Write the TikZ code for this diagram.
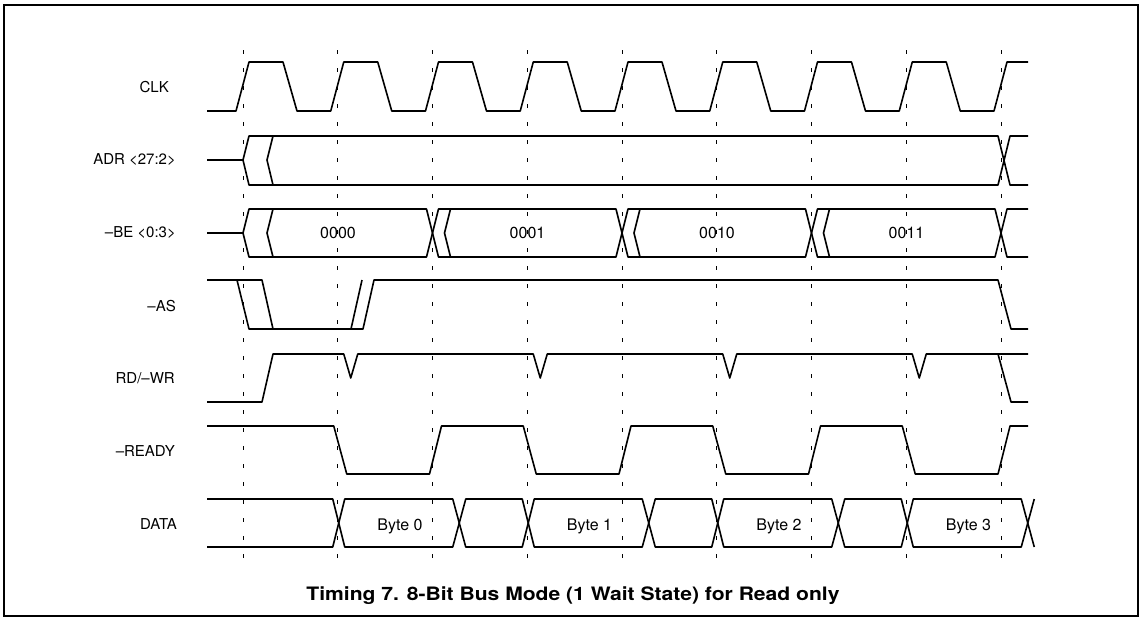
\documentclass[tikz,border=0pt]{standalone}
\usepackage{fontspec}
\setmainfont{TeX Gyre Heros}
\usetikzlibrary{positioning}

\begin{document}
\begin{tikzpicture}[x=1pt,y=-1pt,
  wave/.style={line width=1.6pt, line join=round},
  guide/.style={line width=0.9pt, dash pattern=on 4pt off 14pt},
  sname/.style={anchor=east, inner sep=0pt, font=\fontsize{15}{17}\selectfont},
  val/.style={inner sep=0pt, font=\fontsize{16}{18}\selectfont}]
\useasboundingbox (0,0) rectangle (1143,619);
\draw[line width=1.2pt] (4,5) rectangle (1138,616);

% dashed guides at the rising clock edges
\foreach \i in {0,...,8}
  \draw[guide] ({243+94.75*\i},50) -- ({243+94.75*\i},560);

% signal names
\node[sname] (clk)   at (169,87)  {CLK};
\node[sname] (adr)   at (176,160) {ADR <27:2>};
\node[sname] (be)    at (176,233) {--BE <0:3>};
\node[sname] (as)    at (176,306) {--AS};
\node[sname] (rdwr)  at (175,378) {RD/--WR};
\node[sname] (ready) at (175,451) {--READY};
\node[sname] (data)  at (177,524) {DATA};

% CLK
\draw[wave] (207,111) \foreach \i in {0,...,7} {
    -- ({236+94.75*\i},111) -- ({249+94.75*\i},62)
    -- ({283+94.75*\i},62) -- ({297+94.75*\i},111) }
  -- (994,111) -- (1007,62) -- (1028,62);

% ADR <27:2>
\draw[wave] (207,160) -- (243,160) -- (249,136) -- (998,136) -- (1010,185) -- (1028,185);
\draw[wave] (243,160) -- (249,185) -- (998,185) -- (1010,136) -- (1028,136);
\draw[wave] (273,136) -- (267,160) -- (273,185);

% -BE <0:3>
\draw[wave] (207,233) -- (243,233) -- (249,209) \foreach \i in {2,6} {
    -- ({243+94.75*\i-6},209) -- ({243+94.75*\i+6},257)
    -- ({432.5+94.75*\i-6},257) -- ({432.5+94.75*\i+6},209) }
  -- (1028,209);
\draw[wave] (243,233) -- (249,257) \foreach \i in {2,6} {
    -- ({243+94.75*\i-6},257) -- ({243+94.75*\i+6},209)
    -- ({432.5+94.75*\i-6},209) -- ({432.5+94.75*\i+6},257) }
  -- (1028,257);
\draw[wave] (273,209) -- (267,233) -- (273,257);
\foreach \i in {2,4,6}
  \draw[wave] ({243+94.75*\i+18},209) -- ({243+94.75*\i+12},233) -- ({243+94.75*\i+18},257);
\foreach \v [count=\k from 0] in {0000,0001,0010,0011}
  \node[val] (be\k) at ({338+189.5*\k},233) {\v};

% -AS
\draw[wave] (207,280) -- (262,280) -- (273,329);
\draw[wave] (237,280) -- (249,329) -- (363,329) -- (374,280) -- (998,280) -- (1011,329) -- (1028,329);
\draw[wave] (351,329) -- (362,280);

% RD/-WR
\draw[wave] (207,402) -- (262,402) -- (273,354) \foreach \i in {1,3,5,7} {
    -- ({243+94.75*\i+6},354) -- ({243+94.75*\i+13},378) -- ({243+94.75*\i+20},354) }
  -- (1028,354);
\draw[wave] (998,354) -- (1011,402) -- (1028,402);

% -READY
\draw[wave] (207,426) \foreach \i in {1,3,5,7} {
    -- ({243+94.75*\i-4},426) -- ({243+94.75*\i+9},474)
    -- ({337.75+94.75*\i-3},474) -- ({337.75+94.75*\i+9},426) }
  -- (1028,426);

% DATA
\draw[wave] (207,499) \foreach \i in {1,3,5,7} {
    -- ({243+94.75*\i-5},499) -- ({243+94.75*\i+7},547)
    -- ({364+94.75*\i-6},547) -- ({364+94.75*\i+7},499) };
\draw[wave] (207,547) \foreach \i in {1,3,5,7} {
    -- ({243+94.75*\i-5},547) -- ({243+94.75*\i+7},499)
    -- ({364+94.75*\i-6},499) -- ({364+94.75*\i+7},547) };
\foreach \k in {0,1,2,3}
  \node[val] (byte\k) at ({400+189.5*\k},526) {Byte \k};

\node[anchor=base, inner sep=0pt,
  font=\bfseries\fontsize{18.5}{21}\selectfont\addfontfeatures{FakeStretch=1.14}]
  (title) at (573,600) {Timing 7. 8-Bit Bus Mode (1 Wait State) for Read only};
\end{tikzpicture}
\end{document}
